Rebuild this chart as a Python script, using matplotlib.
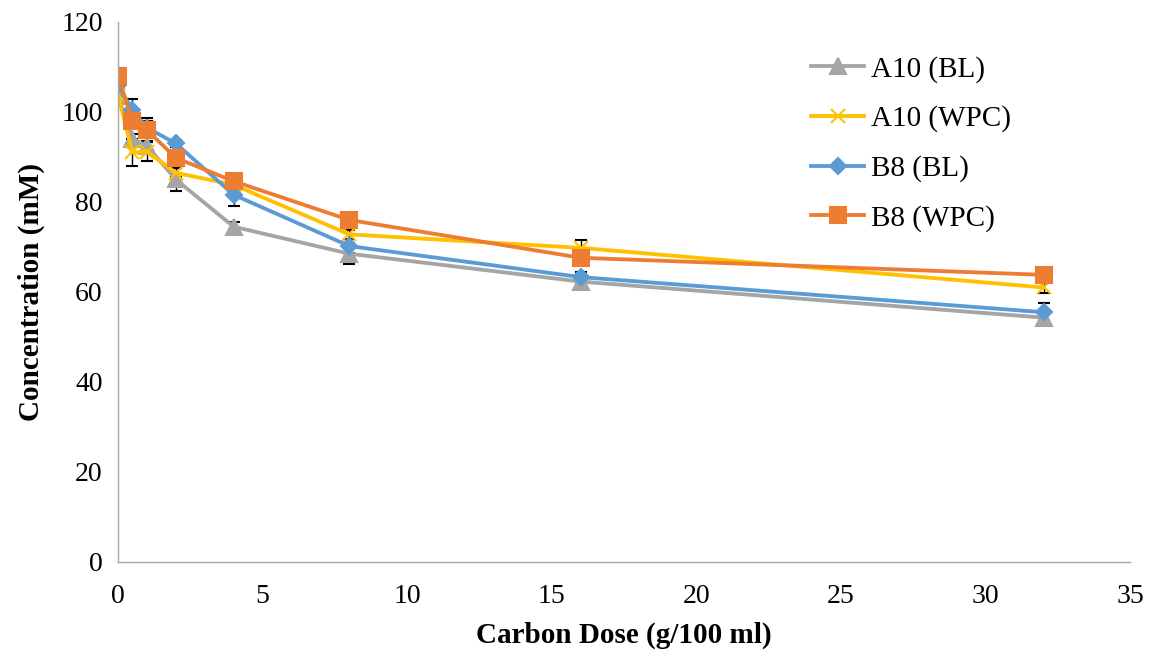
import matplotlib
matplotlib.use("Agg")
import matplotlib.pyplot as plt

dose = [0, 0.5, 1, 2, 4, 8, 16, 32]

a10_bl = [103.5, 94.0, 92.5, 85.0, 74.5, 68.5, 62.3, 54.3]
a10_wpc = [103.8, 91.0, 91.2, 86.5, 83.8, 72.8, 69.8, 61.0]
b8_bl = [106.0, 100.4, 96.5, 93.0, 81.6, 70.2, 63.3, 55.5]
b8_wpc = [108.0, 98.0, 96.0, 89.8, 84.6, 76.0, 67.6, 63.8]

a10_bl_err = [0.5, 1.0, 1.0, 2.5, 1.0, 2.2, 1.0, 0.8]
a10_wpc_err = [0.5, 3.0, 2.2, 1.0, 1.0, 1.0, 1.8, 1.2]
b8_bl_err = [0.8, 2.5, 1.5, 0.8, 2.5, 1.5, 1.2, 2.0]
b8_wpc_err = [0.5, 1.0, 2.6, 1.0, 0.8, 0.8, 1.0, 0.8]

plt.rcParams["font.family"] = ["Liberation Serif", "DejaVu Serif"]

fig = plt.figure(figsize=(11.61, 6.57), dpi=100)
ax = fig.add_axes([0.1016, 0.1446, 0.872, 0.822])

series = [
    ("A10 (BL)", a10_bl, a10_bl_err, "#A5A5A5", "^", 11),
    ("A10 (WPC)", a10_wpc, a10_wpc_err, "#FFC000", "x", 10),
    ("B8 (BL)", b8_bl, b8_bl_err, "#5B9BD5", "D", 8.5),
    ("B8 (WPC)", b8_wpc, b8_wpc_err, "#ED7D31", "s", 11),
]

for label, values, err, color, marker, ms in series:
    ax.errorbar(dose, values, yerr=err, color=color, marker=marker,
                markersize=ms, linewidth=2.75, markeredgewidth=1.5,
                ecolor="black", elinewidth=1.0, capsize=4, capthick=1.0,
                label=label)

ax.set_xlim(0, 35)
ax.set_ylim(0, 120)
ax.set_xticks(range(0, 36, 5))
ax.set_yticks(range(0, 121, 20))
ax.tick_params(length=0, labelsize=20)
ax.tick_params(axis="x", pad=16)
ax.tick_params(axis="y", pad=11)

for side in ["top", "right"]:
    ax.spines[side].set_visible(False)
for side in ["left", "bottom"]:
    ax.spines[side].set_color("#A6A6A6")
    ax.spines[side].set_linewidth(1.0)

ax.set_xlabel("Carbon Dose (g/100 ml)", fontsize=21, fontweight="bold", labelpad=9)
ax.set_ylabel("Concentration (mM)", fontsize=21, fontweight="bold", labelpad=12)

handles, labels = ax.get_legend_handles_labels()
handles = [h[0] for h in handles]
ax.legend(handles, labels, loc="upper left", bbox_to_anchor=(0.659, 0.986),
          frameon=False, fontsize=21, handlelength=1.8, labelspacing=0.78,
          handletextpad=0.25)

fig.savefig("out.png", dpi=100)
